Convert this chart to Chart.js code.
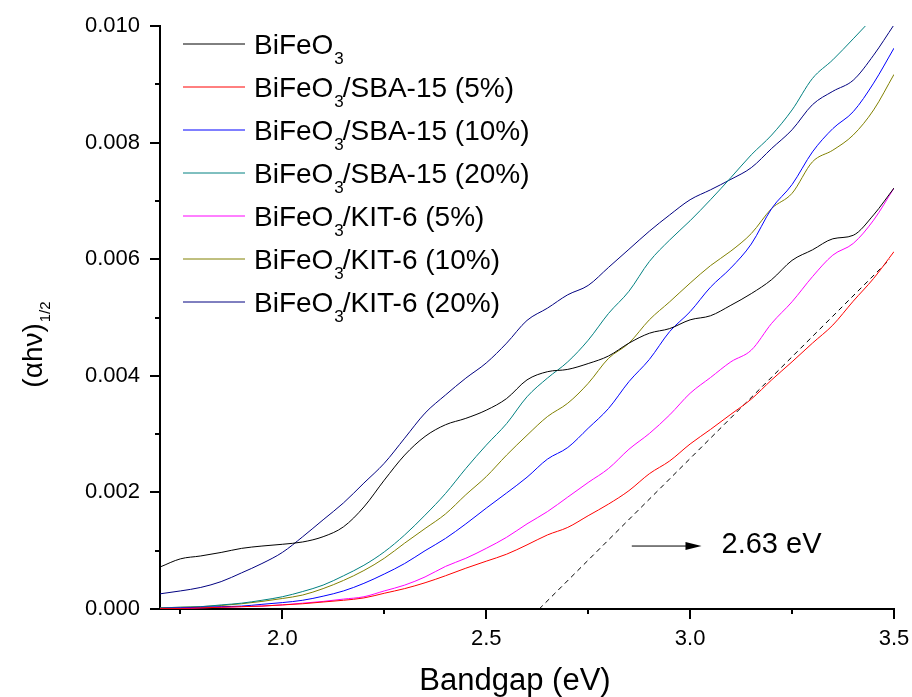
<!DOCTYPE html>
<html>
<head>
<script src="https://cdn.jsdelivr.net/npm/chart.js"></script>
<style>
  html, body { margin: 0; padding: 0; background: #ffffff; }
  #wrap { width: 912px; height: 697px; }
</style>
</head>
<body>
<div id="wrap"><canvas id="myChart" width="912" height="697"></canvas></div>
<script>
// photon energy (eV)
const energy = [1.70, 1.75, 1.80, 1.85, 1.90, 1.95, 2.00, 2.05, 2.10, 2.15, 2.20, 2.25, 2.30,
                2.35, 2.40, 2.45, 2.50, 2.55, 2.60, 2.65, 2.70, 2.75, 2.80, 2.85, 2.90, 2.95,
                3.00, 3.05, 3.10, 3.15, 3.20, 3.25, 3.30, 3.35, 3.40, 3.45, 3.50];

// (alpha h nu)^1/2
const bifeo3 = [0.00072, 0.00086, 0.00091, 0.00097, 0.00104, 0.00108, 0.00111, 0.00115, 0.00124,
                0.00141, 0.00175, 0.00221, 0.00264, 0.00296, 0.00316, 0.00327, 0.00341, 0.00361,
                0.00393, 0.00407, 0.00411, 0.00421, 0.00434, 0.00456, 0.00473, 0.00481, 0.00496,
                0.00503, 0.00521, 0.00541, 0.00565, 0.00598, 0.00616, 0.00635, 0.00641, 0.00676, 0.00722];
const sba5 = [0.00001, 0.00001, 0.00002, 0.00003, 0.00004, 0.00005, 0.00007, 0.00009, 0.00012,
              0.00015, 0.00019, 0.00027, 0.00035, 0.00045, 0.00057, 0.00070, 0.00082, 0.00094,
              0.00110, 0.00127, 0.00140, 0.00160, 0.00180, 0.00203, 0.00232, 0.00254, 0.00283,
              0.00308, 0.00334, 0.00360, 0.00393, 0.00424, 0.00456, 0.00487, 0.00528, 0.00567, 0.00613];
const sba10 = [0.00001, 0.00002, 0.00003, 0.00004, 0.00005, 0.00008, 0.00011, 0.00015, 0.00022,
               0.00031, 0.00044, 0.00060, 0.00078, 0.00100, 0.00121, 0.00146, 0.00173, 0.00199,
               0.00226, 0.00257, 0.00277, 0.00310, 0.00344, 0.00390, 0.00428, 0.00476, 0.00510,
               0.00552, 0.00585, 0.00626, 0.00687, 0.00728, 0.00784, 0.00824, 0.00853, 0.00902, 0.00962];
const sba20 = [0.00002, 0.00003, 0.00004, 0.00007, 0.00010, 0.00015, 0.00021, 0.00030, 0.00041,
               0.00057, 0.00075, 0.00098, 0.00127, 0.00161, 0.00198, 0.00241, 0.00281, 0.00318,
               0.00364, 0.00396, 0.00424, 0.00461, 0.00507, 0.00545, 0.00596, 0.00633, 0.00666,
               0.00702, 0.00740, 0.00779, 0.00813, 0.00856, 0.00910, 0.00942, 0.00978, 0.01015, null];
const kit5 = [0.00001, 0.00001, 0.00002, 0.00003, 0.00004, 0.00005, 0.00007, 0.00010, 0.00013,
              0.00017, 0.00021, 0.00031, 0.00041, 0.00055, 0.00073, 0.00087, 0.00104, 0.00123,
              0.00146, 0.00167, 0.00192, 0.00217, 0.00241, 0.00274, 0.00301, 0.00333, 0.00370,
              0.00397, 0.00424, 0.00444, 0.00490, 0.00527, 0.00570, 0.00607, 0.00627, 0.00667, 0.00722];
const kit10 = [0.00002, 0.00003, 0.00004, 0.00006, 0.00009, 0.00013, 0.00018, 0.00024, 0.00035,
               0.00049, 0.00066, 0.00087, 0.00113, 0.00138, 0.00163, 0.00196, 0.00227, 0.00264,
               0.00298, 0.00330, 0.00353, 0.00387, 0.00430, 0.00456, 0.00496, 0.00527, 0.00559,
               0.00589, 0.00614, 0.00644, 0.00687, 0.00713, 0.00767, 0.00787, 0.00813, 0.00856, 0.00917];
const kit20 = [0.00026, 0.00031, 0.00037, 0.00047, 0.00062, 0.00078, 0.00097, 0.00124, 0.00153,
               0.00182, 0.00216, 0.00250, 0.00293, 0.00336, 0.00367, 0.00396, 0.00422, 0.00456,
               0.00495, 0.00516, 0.00539, 0.00555, 0.00586, 0.00617, 0.00648, 0.00676, 0.00702,
               0.00719, 0.00737, 0.00757, 0.00790, 0.00822, 0.00865, 0.00888, 0.00907, 0.00950, 0.01002];

const labels = ['BiFeO3', 'BiFeO3/SBA-15 (5%)', 'BiFeO3/SBA-15 (10%)', 'BiFeO3/SBA-15 (20%)',
                'BiFeO3/KIT-6 (5%)', 'BiFeO3/KIT-6 (10%)', 'BiFeO3/KIT-6 (20%)'];
const colors = ['#000000', '#ff0000', '#0000ff', '#008080', '#ff00ff', '#808000', '#000080'];
const series = [bifeo3, sba5, sba10, sba20, kit5, kit10, kit20];

// linear fit extrapolated to the energy axis
const tangentX = [2.63, 3.49];
const tangentY = [0.0, 0.0060];
const gapLabel = '2.63 eV';

const xTicks = [2.0, 2.5, 3.0, 3.5];
const xMinor = [1.75, 2.25, 2.75, 3.25];
const yTicks = [0, 0.002, 0.004, 0.006, 0.008, 0.010];
const yMinor = [0.001, 0.003, 0.005, 0.007, 0.009];

const FONT = '"Liberation Sans", Arial, sans-serif';

const datasets = series.map((s, i) => ({
    label: labels[i],
    data: energy.map((e, j) => ({ x: e, y: s[j] })),
    borderColor: colors[i],
    borderWidth: 1,
    pointRadius: 0,
    cubicInterpolationMode: 'monotone',
    spanGaps: false
}));
datasets.push({
    label: 'fit',
    data: tangentX.map((e, j) => ({ x: e, y: tangentY[j] })),
    borderColor: '#000000',
    borderWidth: 1,
    borderDash: [5, 4],
    pointRadius: 0
});

function noPad(s) {
    s.paddingTop = 0; s.paddingBottom = 0; s.paddingLeft = 0; s.paddingRight = 0;
}

const decorations = {
    id: 'decorations',
    afterDraw(chart) {
        const { ctx, chartArea: a, scales: { x, y } } = chart;
        ctx.save();

        // axis ticks, outward
        ctx.strokeStyle = '#000';
        ctx.lineWidth = 2;
        ctx.beginPath();
        yTicks.forEach(v => { const p = Math.round(y.getPixelForValue(v)); ctx.moveTo(a.left - 10, p); ctx.lineTo(a.left, p); });
        yMinor.forEach(v => { const p = Math.round(y.getPixelForValue(v)); ctx.moveTo(a.left - 5, p); ctx.lineTo(a.left, p); });
        xTicks.forEach(v => { const p = Math.round(x.getPixelForValue(v)); ctx.moveTo(p, a.bottom); ctx.lineTo(p, a.bottom + 10); });
        xMinor.forEach(v => { const p = Math.round(x.getPixelForValue(v)); ctx.moveTo(p, a.bottom); ctx.lineTo(p, a.bottom + 5); });
        ctx.stroke();

        // legend
        ctx.fillStyle = '#000';
        ctx.textBaseline = 'alphabetic';
        labels.forEach((lab, i) => {
            const ly = 44 + i * 43;
            ctx.strokeStyle = colors[i];
            ctx.lineWidth = 1;
            ctx.beginPath();
            ctx.moveTo(183, ly);
            ctx.lineTo(245, ly);
            ctx.stroke();
            let tx = 254;
            ctx.font = '28px ' + FONT;
            ctx.fillText('BiFeO', tx, ly + 10);
            tx += ctx.measureText('BiFeO').width;
            ctx.font = '17px ' + FONT;
            ctx.fillText('3', tx + 1, ly + 20);
            tx += ctx.measureText('3').width;
            ctx.font = '28px ' + FONT;
            ctx.fillText(lab.slice(6), tx, ly + 10);
        });

        // x title
        ctx.font = '31px ' + FONT;
        ctx.textAlign = 'center';
        ctx.fillText('Bandgap (eV)', 515, 690);

        // y title, rotated
        ctx.save();
        ctx.translate(42, 345);
        ctx.rotate(-Math.PI / 2);
        ctx.textAlign = 'left';
        ctx.font = '28px ' + FONT;
        const base = '(\u03b1h\u03bd)';
        const wb = ctx.measureText(base).width;
        ctx.font = '15px ' + FONT;
        const sup = '1/2';
        const ws = ctx.measureText(sup).width;
        const s0 = -(wb + ws) / 2;
        ctx.font = '28px ' + FONT;
        ctx.fillText(base, s0, 0);
        ctx.font = '15px ' + FONT;
        ctx.fillText(sup, s0 + wb + 1, 8);
        ctx.restore();

        // arrow and band gap label
        const ay = y.getPixelForValue(0.00108);
        const ax0 = x.getPixelForValue(2.857);
        const ax1 = x.getPixelForValue(3.028);
        ctx.strokeStyle = '#000';
        ctx.lineWidth = 1;
        ctx.beginPath();
        ctx.moveTo(ax0, ay);
        ctx.lineTo(ax1 - 14, ay);
        ctx.stroke();
        ctx.beginPath();
        ctx.moveTo(ax1, ay);
        ctx.lineTo(ax1 - 16, ay - 4);
        ctx.lineTo(ax1 - 16, ay + 4);
        ctx.closePath();
        ctx.fill();
        ctx.textAlign = 'left';
        ctx.textBaseline = 'middle';
        ctx.font = '29px ' + FONT;
        ctx.fillText(gapLabel, x.getPixelForValue(3.077), ay - 1);

        ctx.restore();
    }
};

new Chart(document.getElementById('myChart').getContext('2d'), {
    type: 'line',
    data: { datasets },
    options: {
        responsive: false,
        animation: false,
        events: [],
        layout: { autoPadding: false, padding: { top: 26, right: 18, left: 0, bottom: 0 } },
        plugins: { legend: { display: false }, tooltip: { enabled: false } },
        scales: {
            x: {
                type: 'linear',
                min: 1.7,
                max: 3.5,
                grid: { display: false, drawTicks: false },
                border: { display: true, color: '#000', width: 2 },
                afterBuildTicks: s => { s.ticks = xTicks.map(v => ({ value: v })); },
                afterFit: s => { s.height = 88; noPad(s); },
                ticks: {
                    padding: 17,
                    color: '#000',
                    font: { family: FONT, size: 22 },
                    maxRotation: 0,
                    callback: v => v.toFixed(1)
                }
            },
            y: {
                type: 'linear',
                min: 0,
                max: 0.010,
                grid: { display: false, drawTicks: false },
                border: { display: true, color: '#000', width: 2 },
                afterBuildTicks: s => { s.ticks = yTicks.map(v => ({ value: v })); },
                afterFit: s => { s.width = 160; noPad(s); },
                ticks: {
                    padding: 20,
                    color: '#000',
                    font: { family: FONT, size: 22 },
                    callback: v => v.toFixed(3)
                }
            }
        }
    },
    plugins: [decorations]
});
</script>
</body>
</html>
